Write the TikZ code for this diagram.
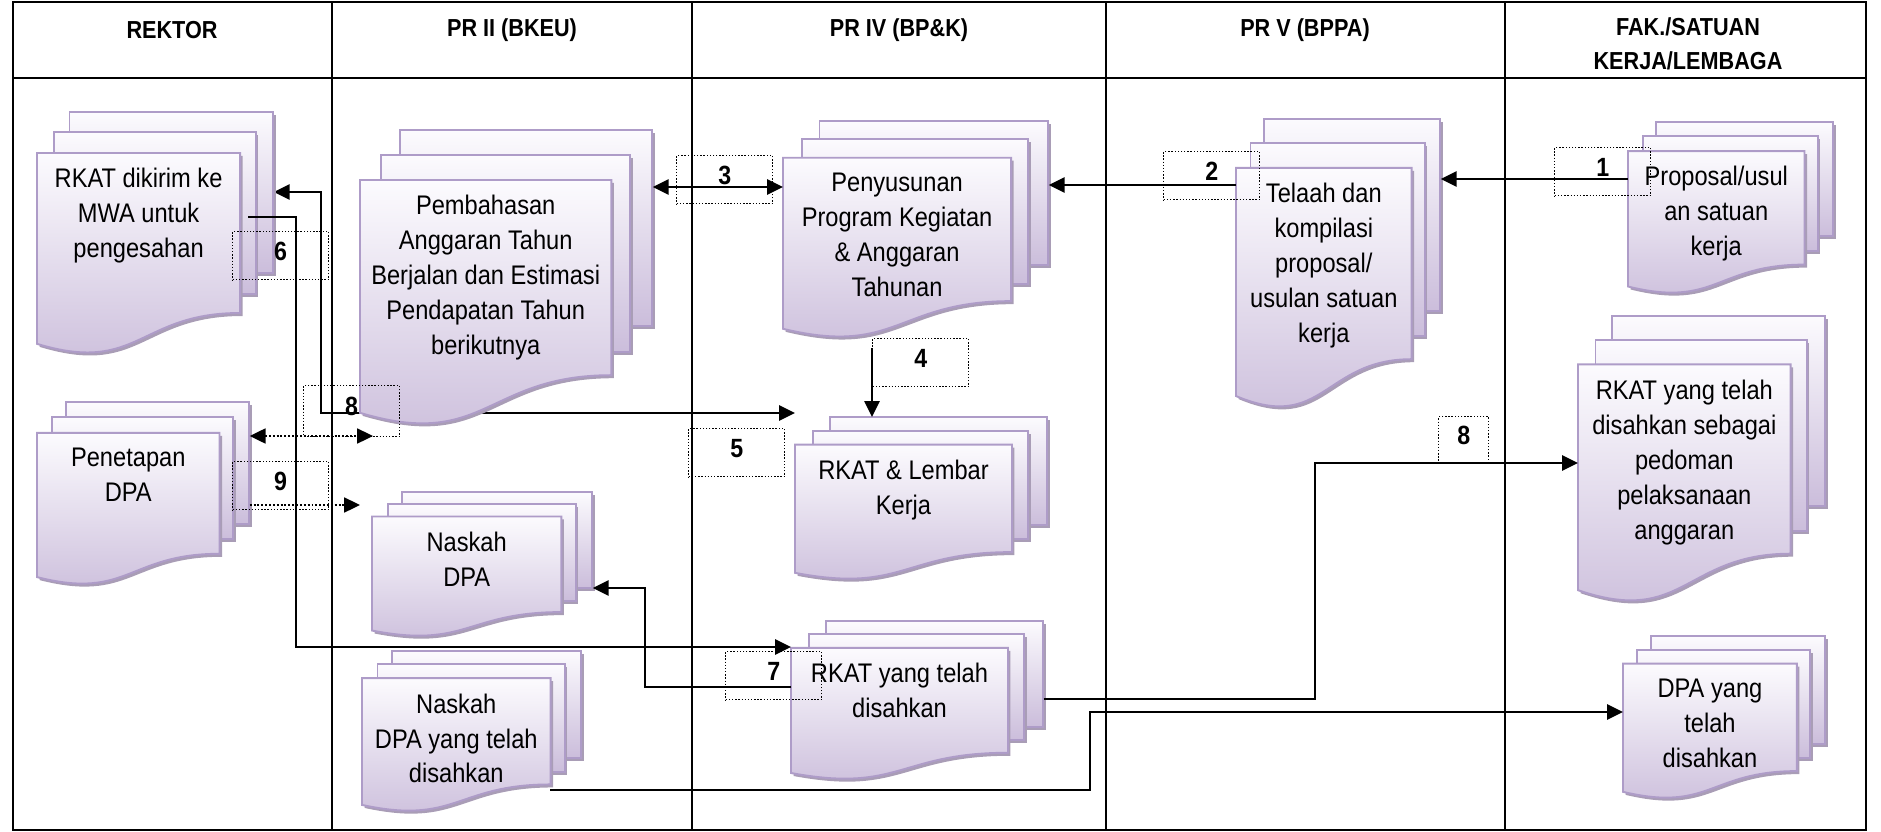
\documentclass[tikz,border=0pt]{standalone}
\usepackage{fontspec}
\setmainfont{Liberation Sans}[FakeStretch=0.88]
\usetikzlibrary{arrows.meta,calc,backgrounds}

\definecolor{docline}{HTML}{AE9CC8}
\definecolor{doctop}{HTML}{FCFBFE}
\definecolor{docbot}{HTML}{CBBDDB}
\definecolor{docshade}{HTML}{A99DB6}

% three stacked pages: name, x, y (top left), width, height, text
\newcommand{\multidoc}[6]{%
  \begin{scope}[shift={(#2,#3)}]
    \path[docpage] ({0.1376*#4},0) rectangle (#4,{0.668*#5});
    \path[docpage] ({0.0709*#4},{0.084*#5}) rectangle ({0.926*#4},{0.755*#5});
    \path[docpage] (0,{0.17*#5}) -- ({0.861*#4},{0.17*#5}) -- ({0.861*#4},{0.834*#5})
      .. controls ({0.4305*#4},{0.834*#5}) and ({0.4305*#4},{1.09*#5}) .. (0,{0.962*#5}) -- cycle;
  \end{scope}
  \node[inner sep=0,anchor=north west,minimum width={#4*0.02cm},minimum height={#5*0.02cm}] (#1) at (#2,#3) {};
  \node[doctext] (#1t) at ($(#1.north west)+({0.4305*#4},{0.17*#5+15})$) {#6};
}

\begin{document}
\begin{tikzpicture}[x=0.02cm,y=-0.02cm,
  docpage/.style={draw=docline,line width=1.1pt,top color=doctop,bottom color=docbot,
    preaction={fill=docshade,transform canvas={shift={(2.5,3)}}}},
  doctext/.style={anchor=north,inner sep=0,align=center,font=\fontsize{15.3}{19.9}\selectfont},
  head/.style={align=center,font=\fontsize{14}{19}\selectfont\bfseries},
  numbox/.style={draw,line width=0.8pt,dash pattern=on 0.8pt off 1pt,anchor=north west,
    minimum width=1.92cm,minimum height=0.96cm,inner sep=0,text depth=0.18cm,
    font=\fontsize{15}{17}\selectfont\bfseries},
  arr/.style={line width=1.3pt,-{Triangle[length=9pt,width=8.5pt]}},
  biarr/.style={line width=1.3pt,{Triangle[length=9pt,width=8.5pt]}-{Triangle[length=9pt,width=8.5pt]}},
  dotarr/.style={line width=1.1pt,dash pattern=on 1.1pt off 1.1pt}]
\useasboundingbox (0,0) rectangle (1881,832);

\draw[line width=1.3pt] (13,2) rectangle (1866,830);
\draw[line width=1.3pt] (13,78) -- (1866,78);
\foreach \lx in {332,692,1106,1505}
  \draw[line width=1.3pt] (\lx,2) -- (\lx,830);

\node[head] (rektor) at (172,30) {REKTOR};
\node[head] (pr2) at (512,30) {PR II (BKEU)};
\node[head] (pr4) at (899,30) {PR IV (BP\&K)};
\node[head] (pr5) at (1305,30) {PR V (BPPA)};
\node[head] (fak) at (1688,44) {FAK./SATUAN\\KERJA/LEMBAGA};

\multidoc{kirim}{37}{112}{236}{241}{RKAT dikirim ke\\MWA untuk\\pengesahan}
\multidoc{tetap}{37}{402}{212}{182}{Penetapan\\DPA}
\multidoc{bahas}{360}{130}{292}{294}{Pembahasan\\Anggaran Tahun\\Berjalan dan Estimasi\\Pendapatan Tahun\\berikutnya}
\multidoc{naskah}{372}{492}{220}{144}{Naskah\\DPA}
\multidoc{naskahsah}{362}{651}{219}{160}{Naskah\\DPA yang telah\\disahkan}
\multidoc{susun}{783}{121}{265}{216}{Penyusunan\\Program Kegiatan\\\& Anggaran\\Tahunan}
\multidoc{lembar}{795}{417}{252}{162}{RKAT \& Lembar\\Kerja}
\multidoc{rkatsah}{791}{621}{252}{158}{RKAT yang telah\\disahkan}
\multidoc{telaah}{1236}{119}{204}{288}{Telaah dan\\kompilasi\\proposal/\\usulan satuan\\kerja}
\multidoc{usul}{1628}{122}{205}{171}{Proposal/usul\\an satuan\\kerja}
\multidoc{pedoman}{1578}{316}{247}{285}{RKAT yang telah\\disahkan sebagai\\pedoman\\pelaksanaan\\anggaran}
\multidoc{dpasah}{1623}{636}{202}{162}{DPA yang\\telah\\disahkan}

\begin{scope}[on background layer]
  \draw[biarr] ($(kirim.north east)+(0,80)$) -- ++(47,0) |- ($(lembar.north west)+(0,-4)$);
\end{scope}
\draw[arr] ($(usul.north west)+(0,57)$) -- ($(telaah.north east)+(0,60)$);
\draw[arr] ($(telaah.north west)+(0,66)$) -- ($(susun.north east)+(0,64)$);
\draw[biarr] ($(bahas.north east)+(0,57)$) -- ($(susun.north west)+(0,66)$);
\draw[arr] ($(susun.north west)+(89,227)$) -- ($(lembar.north west)+(77,0)$);
\draw[arr] ($(kirim.north west)+(211,105)$) -- ++(48,0) |- ($(rkatsah.north west)+(0,26)$);
\draw[arr] ($(rkatsah.north west)+(0,66)$) -- ++(-146,0) |- ($(naskah.north east)+(0,96)$);
\draw[dotarr,{Triangle[length=9pt,width=8.5pt]}-{Triangle[length=9pt,width=8.5pt]}]
  ($(tetap.north east)+(0,34)$) -- ($(bahas.north west)+(13,306)$);
\draw[dotarr,-{Triangle[length=9pt,width=8.5pt]}]
  ($(tetap.north east)+(0,103)$) -- ($(naskah.north west)+(-12,13)$);
\draw[arr] ($(rkatsah.north east)+(0,78)$) -- ++(271,0) |- ($(pedoman.north west)+(0,147)$);
\draw[arr] ($(naskahsah.north west)+(188,139)$) -- ++(540,0) |- ($(dpasah.north west)+(0,76)$);

\node[numbox] (n1) at (1554,147) {1};
\node[numbox] (n2) at (1163,151) {2};
\node[numbox] (n3) at (676,155) {3};
\node[numbox] (n4) at (872,338) {4};
\node[numbox] (n5) at (688,428) {5};
\node[numbox] (n6) at (232,231) {6};
\node[numbox] (n7) at (725,651) {7};
\node[numbox,minimum height=1.02cm] (n8) at (303,385) {8};
\node[numbox,minimum width=1cm,minimum height=0.94cm] (n8b) at (1438,416) {8};
\node[numbox] (n9) at (232,461) {9};
\end{tikzpicture}
\end{document}
